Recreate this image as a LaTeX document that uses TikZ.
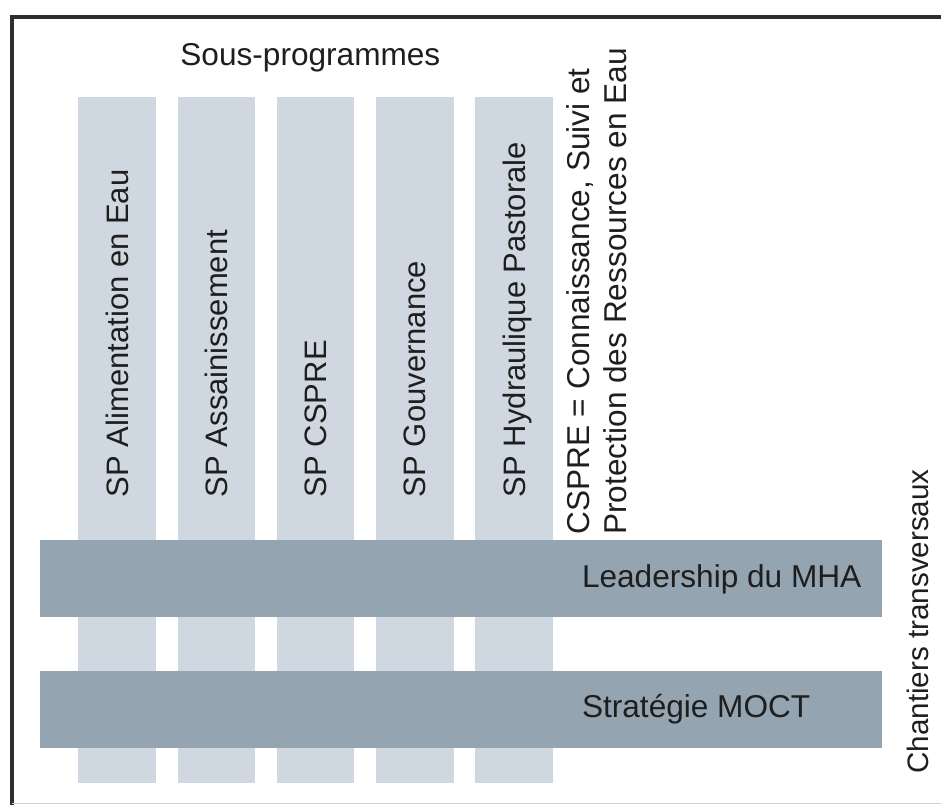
\documentclass[tikz,border=0pt]{standalone}
\usepackage{fontspec}
\setmainfont{Liberation Sans}
\usepackage{tikz}
\usetikzlibrary{positioning}
\usepackage{xcolor}
\definecolor{spBlue}{HTML}{CFD8E0}
\definecolor{barBlue}{HTML}{94A4B1}
\definecolor{frameGray}{HTML}{2E2E2E}
\definecolor{txtDark}{HTML}{1E1E1E}

\begin{document}
\begin{tikzpicture}[
    every node/.style={text=txtDark, font=\fontsize{15.8}{18.5}\selectfont, inner sep=0pt},
    spcol/.style={fill=spBlue, minimum width=38.75pt, minimum height=343pt},
    chbar/.style={fill=barBlue, minimum width=421pt, minimum height=38.5pt},
    vlabel/.style={rotate=90, anchor=base west, font=\fontsize{15.5}{18}\selectfont},
    node distance=10.5pt]
      \useasboundingbox (0,0) rectangle (470.5pt,-402.5pt);
      \draw[line width=2pt, frameGray] (6pt,-402.5pt) |- (470.5pt,-8.5pt);
      \draw[line width=0.4pt, gray!35] (6pt,-401.5pt) -- (470.5pt,-401.5pt);
      \node[anchor=base west] (title) at (90pt,-32.5pt) {Sous-programmes};
      \node[spcol] (alim) at (58.5pt,-220pt) {};
      \node[spcol, right=of alim] (assain) {};
      \node[spcol, right=of assain] (cspre) {};
      \node[spcol, right=of cspre] (gouv) {};
      \node[spcol, right=of gouv] (hydro) {};
      \node[vlabel] (alimtxt) at ([xshift=5.5pt, yshift=143pt]alim.south) {SP Alimentation en Eau};
      \node[vlabel] (assaintxt) at ([xshift=5.5pt, yshift=143pt]assain.south) {SP Assainissement};
      \node[vlabel] (csprettxt) at ([xshift=5.5pt, yshift=143pt]cspre.south) {SP CSPRE};
      \node[vlabel] (gouvtxt) at ([xshift=5.5pt, yshift=143pt]gouv.south) {SP Gouvernance};
      \node[vlabel] (hydrotxt) at ([xshift=5.5pt, yshift=143pt]hydro.south) {SP Hydraulique Pastorale};
      \node[rotate=90, anchor=north west, align=left] (note) at (283pt,-267.5pt) {CSPRE = Connaissance, Suivi et\\Protection des Ressources en Eau};
      \node[chbar] (lead) at (230.5pt,-289.25pt) {};
      \node[chbar, below=26.5pt of lead] (strat) {};
      \node[anchor=base west] (leadtxt) at ([xshift=271pt, yshift=-4.25pt]lead.west) {Leadership du MHA};
      \node[anchor=base west] (strattxt) at ([xshift=271pt, yshift=-4.25pt]strat.west) {Stratégie MOCT};
      \node[vlabel, font=\fontsize{14.8}{17}\selectfont] (chantiers) at (464pt,-387pt) {Chantiers transversaux};
    \end{tikzpicture}
\end{document}
